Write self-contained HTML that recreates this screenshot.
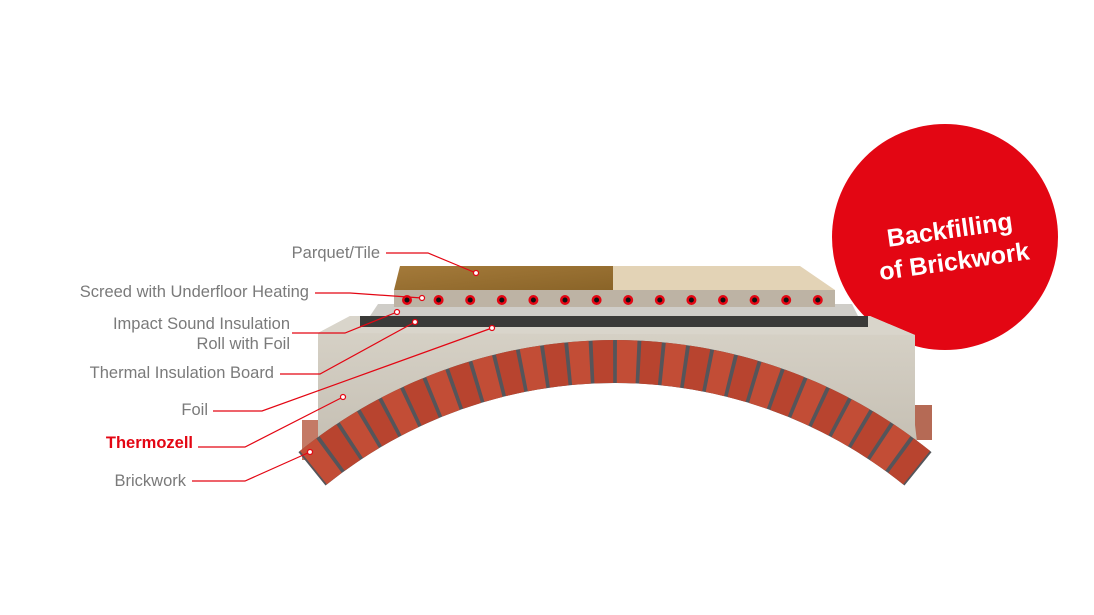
<!DOCTYPE html>
<html><head><meta charset="utf-8"><style>
html,body{margin:0;padding:0;background:#fff;}
svg{display:block}
.l{font-family:"Liberation Sans",sans-serif;font-size:16.5px;fill:#7a7a7a;}
</style></head><body>
<svg id="s" width="1094" height="615" viewBox="0 0 1094 615" xmlns="http://www.w3.org/2000/svg">
<defs>
<linearGradient id="wood" x1="0" y1="0" x2="1" y2="1"><stop offset="0" stop-color="#a47a3a"/><stop offset="1" stop-color="#8a6428"/></linearGradient>
<linearGradient id="concg" x1="0" y1="0" x2="0" y2="1"><stop offset="0" stop-color="#d8d3c8"/><stop offset="1" stop-color="#c4beb2"/></linearGradient>
</defs>
<circle cx="945" cy="237" r="113" fill="#e30613"/>
<g transform="translate(952,246) rotate(-8)" font-family="'Liberation Sans',sans-serif" font-weight="bold" font-size="25" fill="#fff" text-anchor="middle">
<text x="0" y="-8">Backfilling</text><text x="0" y="24">of Brickwork</text></g>
<rect x="302" y="420" width="20" height="40" fill="#c47a66"/>
<rect x="910" y="405" width="22" height="35" fill="#b56a55"/>
<path id="concpath" fill="url(#concg)"/>
<polygon points="318,333 350,316 870,316 915,335" fill="#d9d5cb"/>
<rect x="360" y="316" width="508" height="11" fill="#3a3a38"/>
<polygon points="370,316 378,304 852,304 858,316" fill="#cfcdc8"/>
<rect x="394" y="290" width="441" height="17" fill="#bdb3a4"/>
<polygon points="394,290 400,266 613,266 613,290" fill="url(#wood)"/>
<polygon points="613,266 800,266 835,290 613,290" fill="#e3d3b6"/>
<g id="pipes"></g>
<g id="arch"></g>
<g fill="none" stroke="#e30613" stroke-width="1.2">
<polyline points="386,253 428,253 476,273"/><circle cx="476" cy="273" r="2.5" fill="#fff"/>
<polyline points="315,293 350,293 422,298"/><circle cx="422" cy="298" r="2.5" fill="#fff"/>
<polyline points="292,333 345,333 397,312"/><circle cx="397" cy="312" r="2.5" fill="#fff"/>
<polyline points="280,374 320,374 415,322"/><circle cx="415" cy="322" r="2.5" fill="#fff"/>
<polyline points="213,411 262,411 492,328"/><circle cx="492" cy="328" r="2.5" fill="#fff"/>
<polyline points="198,447 245,447 343,397"/><circle cx="343" cy="397" r="2.5" fill="#fff"/>
<polyline points="192,481 245,481 310,452"/><circle cx="310" cy="452" r="2.5" fill="#fff"/>
</g>
<text class="l" x="380" y="258" text-anchor="end">Parquet/Tile</text>
<text class="l" x="309" y="297" text-anchor="end">Screed with Underfloor Heating</text>
<text class="l" x="290" y="329" text-anchor="end">Impact Sound Insulation</text>
<text class="l" x="290" y="349" text-anchor="end">Roll with Foil</text>
<text class="l" x="274" y="378" text-anchor="end">Thermal Insulation Board</text>
<text class="l" x="208" y="415" text-anchor="end">Foil</text>
<text x="193" y="448" text-anchor="end" font-family="'Liberation Sans',sans-serif" font-weight="bold" font-size="16.5" fill="#e30613">Thermozell</text>
<text class="l" x="186" y="486" text-anchor="end">Brickwork</text>
</svg>
<script>
var ns="http://www.w3.org/2000/svg";
var p=document.getElementById("pipes");
for(var i=0;i<14;i++){var x=407+i*31.6;var c=document.createElementNS(ns,"circle");c.setAttribute("cx",x);c.setAttribute("cy",300);c.setAttribute("r",5);c.setAttribute("fill","#e30613");p.appendChild(c);
var d=document.createElementNS(ns,"circle");d.setAttribute("cx",x);d.setAttribute("cy",300);d.setAttribute("r",2.5);d.setAttribute("fill","#111");p.appendChild(d);}
var a=document.getElementById("arch");var cx=615,cy=843,R=503,r=460;
function pt(rad,ang){return [cx+rad*Math.sin(ang),cy-rad*Math.cos(ang)];}
var cp="M318,333 L350,316 L870,316 L915,335 L915,425 ";
for(var t=38;t>=-38;t-=2){var q=pt(R-10,t*Math.PI/180);cp+="L"+q[0].toFixed(1)+","+q[1].toFixed(1)+" ";}
cp+="L318,445 Z";document.getElementById("concpath").setAttribute("d",cp);
var A0=-39*Math.PI/180,A1=39*Math.PI/180;
var p1=pt(R,A0),p2=pt(R,A1),p3=pt(r,A1),p4=pt(r,A0);
var bg=document.createElementNS(ns,"path");
bg.setAttribute("d","M"+p1+" A"+R+" "+R+" 0 0 1 "+p2+" L"+p3+" A"+r+" "+r+" 0 0 0 "+p4+"Z");
bg.setAttribute("fill","#55555a");a.appendChild(bg);
var n=28,step=(A1-A0)/n;
for(var k=0;k<n;k++){var s=A0+k*step+step*0.08,e=A0+(k+1)*step-step*0.08;
var q1=pt(R,s),q2=pt(R,e),q3=pt(r,e),q4=pt(r,s);
var b=document.createElementNS(ns,"path");
b.setAttribute("d","M"+q1+" A"+R+" "+R+" 0 0 1 "+q2+" L"+q3+" A"+r+" "+r+" 0 0 0 "+q4+"Z");
b.setAttribute("fill",k%2?"#b8442f":"#c24d36");a.appendChild(b);}
</script>
</body></html>
